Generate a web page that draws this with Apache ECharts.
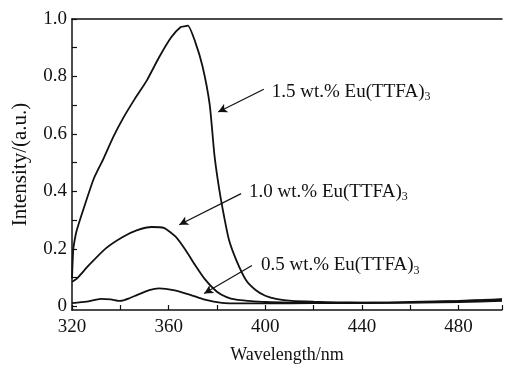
<!DOCTYPE html>
<html>
<head>
<meta charset="utf-8">
<script src="https://cdn.jsdelivr.net/npm/echarts@6/dist/echarts.min.js"></script>
<style>html,body{margin:0;padding:0;background:#fff}#c{width:505px;height:369px}</style>
</head>
<body>
<div id="c"></div>
<script>
// Wavelength (nm) and intensity (a.u.)
const s15x = [320,320.5,321,322,325,329,333,337,341,346,351,356,361,365,367,368,371,374,377,379,381,383,385,388,392,396,400,405,411,420,430,440,450,460,470,480,490,498];
const s15y = [0.09,0.19,0.22,0.26,0.34,0.44,0.51,0.585,0.65,0.72,0.785,0.865,0.935,0.972,0.975,0.977,0.92,0.835,0.70,0.52,0.40,0.306,0.225,0.155,0.085,0.05,0.03,0.018,0.012,0.009,0.007,0.006,0.006,0.008,0.01,0.012,0.015,0.018];
const s10x = [320,322,327,334,341,347,353,358,363,367,371,375,380,384,388,393,400,410,430,460,480,498];
const s10y = [0.079,0.09,0.137,0.196,0.236,0.26,0.271,0.268,0.236,0.19,0.137,0.088,0.044,0.025,0.016,0.012,0.008,0.006,0.005,0.007,0.011,0.016];
const s05x = [320,326,332,336,340,344,347,352,356,362,369,375,382,390,400,420,450,480,498];
const s05y = [0.004,0.009,0.019,0.017,0.012,0.022,0.033,0.05,0.056,0.05,0.033,0.016,0.005,0.003,0.003,0.004,0.005,0.008,0.012];
const xTicks = [320,360,400,440,480];
const yTicks = [0,0.2,0.4,0.6,0.8,1.0];
const labels = ['1.5 wt.% Eu(TTFA)','1.0 wt.% Eu(TTFA)','0.5 wt.% Eu(TTFA)'];
const labelAt = [[402.7,0.744],[393.3,0.395],[398.2,0.136]];
const arrowFrom = [[399.4,0.754],[390,0.388],[394.5,0.136]];
const arrowTo = [[380.5,0.674],[364.4,0.279],[374.7,0.038]];

const font = 'Liberation Serif';
const ink = '#111';
const zip = (xs, ys) => xs.map((x, i) => [x, ys[i]]);

const chart = echarts.init(document.getElementById('c'), null, {renderer: 'canvas'});
const lineSeries = (name, data) => ({
  name, type: 'line', data, symbol: 'none', smooth: 0.2,
  lineStyle: {color: ink, width: 1.8}, xAxisIndex: 0, yAxisIndex: 0, z: 3
});
chart.setOption({
  animation: false,
  backgroundColor: '#fff',
  grid: [
    {left: 72, right: 0, top: 19, bottom: 57},
    {left: 72, right: 0, top: 19, bottom: 62.75}
  ],
  xAxis: [{
    gridIndex: 0, type: 'value', min: 320, max: 498, interval: 20, position: 'bottom',
    name: 'Wavelength/nm', nameLocation: 'middle', nameGap: 36,
    nameTextStyle: {fontFamily: font, fontSize: 18, color: ink},
    axisLine: {onZero: false, lineStyle: {color: ink, width: 1.5}},
    axisTick: {inside: true, length: 5, lineStyle: {color: ink, width: 1.2}},
    axisLabel: {fontFamily: font, fontSize: 19, color: ink, margin: 8,
      formatter: v => xTicks.includes(v) ? String(v) : ''},
    splitLine: {show: false}
  }, {
    gridIndex: 0, type: 'value', min: 320, max: 498, position: 'top',
    axisLine: {show: true, onZero: false, lineStyle: {color: ink, width: 1.5}},
    axisTick: {show: false}, axisLabel: {show: false}, splitLine: {show: false}
  }, {
    gridIndex: 1, type: 'value', min: 320, max: 498, show: false
  }],
  yAxis: [{
    gridIndex: 0, type: 'value', min: -0.02, max: 1.0,
    name: 'Intensity/(a.u.)', nameLocation: 'middle', nameGap: 41,
    nameTextStyle: {fontFamily: font, fontSize: 21, color: ink},
    axisLine: {show: true, onZero: false, lineStyle: {color: ink, width: 1.5}},
    axisTick: {show: false}, axisLabel: {show: false},
    splitLine: {show: false}
  }, {
    gridIndex: 1, type: 'value', min: 0, max: 1.0, interval: 0.1,
    axisLine: {show: false, onZero: false},
    axisTick: {inside: true, length: 5, lineStyle: {color: ink, width: 1.2}},
    axisLabel: {fontFamily: font, fontSize: 19, color: ink, margin: 5,
      formatter: v => {
        const t = yTicks.find(k => Math.abs(k - v) < 1e-6);
        return t === undefined ? '' : (t === 0 ? '0' : t.toFixed(1));
      }},
    splitLine: {show: false}
  }],
  series: [
    lineSeries('1.5', zip(s15x, s15y)),
    lineSeries('1.0', zip(s10x, s10y)),
    lineSeries('0.5', zip(s05x, s05y)),
    {
      type: 'line', data: [], symbol: 'none', xAxisIndex: 0, yAxisIndex: 0,
      markLine: {
        silent: true, symbol: ['none', 'arrow'], symbolSize: [7, 9],
        lineStyle: {color: ink, width: 1.2, type: 'solid'},
        label: {show: false},
        data: arrowFrom.map((f, i) => [{coord: f}, {coord: arrowTo[i]}])
      },
      markPoint: {
        silent: true, symbol: 'circle', symbolSize: 0,
        label: {
          show: true, position: 'right', distance: 0,
          formatter: p => '{m|' + p.name + '}{s|3}',
          rich: {
            m: {fontFamily: font, fontSize: 19, color: ink},
            s: {fontFamily: font, fontSize: 12, color: ink, padding: [10, 0, 0, 0]}
          }
        },
        data: labels.map((t, i) => ({name: t, coord: labelAt[i]}))
      }
    },
    {type: 'line', data: [], xAxisIndex: 2, yAxisIndex: 1}
  ]
});
</script>
</body>
</html>
